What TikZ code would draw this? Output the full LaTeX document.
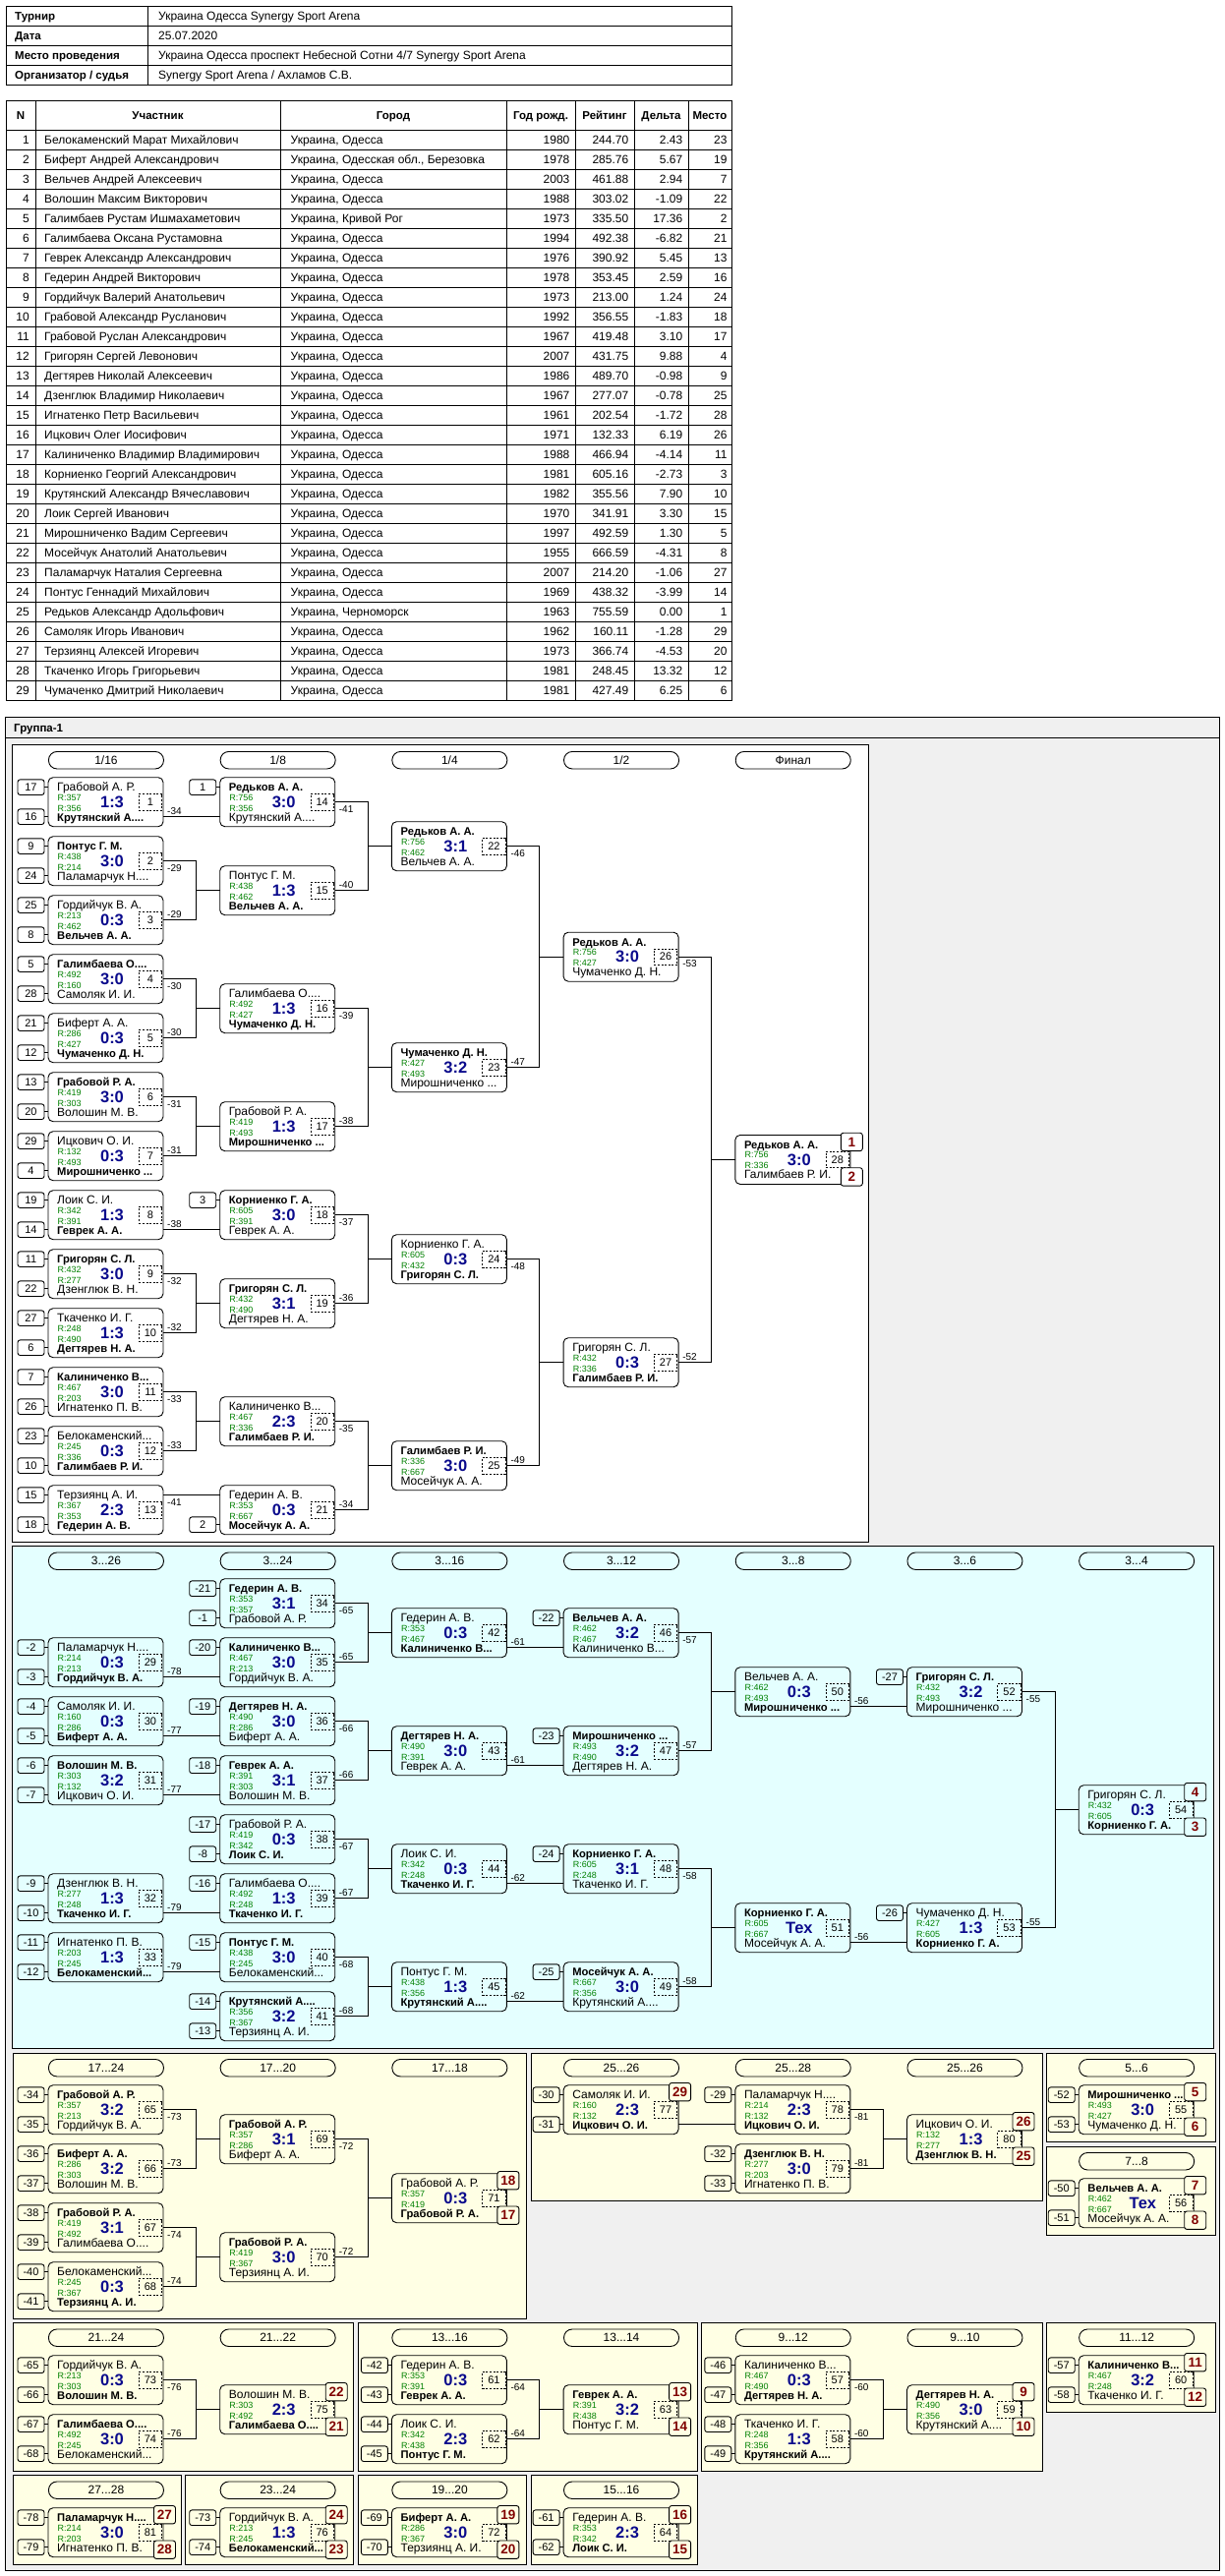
\documentclass[tikz,border=0pt]{standalone}
\usepackage{fontspec}
\setmainfont{Liberation Sans}
\usetikzlibrary{calc}
\definecolor{rgreen}{RGB}{0,128,0}
\definecolor{scblue}{RGB}{10,10,140}
\definecolor{plred}{RGB}{128,0,0}
\definecolor{cyanbg}{RGB}{228,255,255}
\definecolor{yelbg}{RGB}{255,255,228}
\definecolor{graybg}{RGB}{240,240,240}
\colorlet{panelbg}{white}
\newcommand\Fnm{\fontsize{12}{13}\selectfont}
\newcommand\Fbd{\bfseries\fontsize{11.2}{13}\selectfont}
\newcommand\Wn[1]{{\Fbd #1}}
\newcommand\Frt{\fontsize{9}{10}\selectfont}
\newcommand\Fsc{\bfseries\fontsize{16.5}{18}\selectfont}
\newcommand\Fnum{\fontsize{11}{12}\selectfont}
\newcommand\Fsd{\fontsize{11}{12}\selectfont}
\newcommand\Fpl{\bfseries\fontsize{13.5}{14}\selectfont}
\newcommand\Fpill{\fontsize{12}{13}\selectfont}
\newcommand\Flb{\fontsize{10}{11}\selectfont}
\newcommand\Ftb{\fontsize{12}{13}\selectfont}
\newcommand\Ftbb{\bfseries\fontsize{11.5}{13}\selectfont}
\tikzset{
 xmbox/.style={draw, line width=0.9pt, rounded corners=5pt, minimum width=117pt, minimum height=50pt, anchor=north west, inner sep=0pt, outer sep=0pt},
 xnm/.style={inner sep=0pt, anchor=base west, font=\Fnm},
 xrt/.style={inner sep=0pt, anchor=base west, font=\Frt, text=rgreen},
 xsc/.style={inner sep=0pt, anchor=base, font=\Fsc, text=scblue},
 xnb/.style={draw, line width=0.8pt, dash pattern=on 2pt off 1.6pt, minimum width=23.4pt, minimum height=16.4pt, inner sep=0pt, outer sep=0pt, font=\Fnum},
 xseed/.style={draw, line width=0.9pt, rounded corners=2.5pt, minimum width=27pt, minimum height=15.6pt, inner sep=0pt, outer sep=0pt, anchor=east, font=\Fsd},
 xpl/.style={draw, line width=0.9pt, fill=panelbg, rounded corners=2.5pt, minimum width=22pt, minimum height=18.4pt, inner sep=0pt, outer sep=0pt, font=\Fpl, text=plred},
 xpill/.style={draw, line width=0.9pt, rounded corners=8.5pt, minimum width=117pt, minimum height=17.5pt, inner sep=0pt, anchor=north west, font=\Fpill},
 xlbl/.style={inner sep=0pt, anchor=west, font=\Flb},
 xconn/.style={line width=0.9pt},
 xgrid/.style={line width=0.9pt},
 xpanel/.style={draw, line width=0.9pt},
 xtb/.style={inner sep=0pt, font=\Ftb},
 xtbh/.style={inner sep=0pt, font=\Ftbb},
}
% match box
\newcommand\Mt[9]{%
 \node[xmbox] (#1) at (#2,#3) {};
 \node[xnm] (#1t1) at ([xshift=9pt,yshift=-13.8pt]#1.north west) {#4};
 \node[xrt] (#1r1) at ([xshift=9.5pt,yshift=-23.3pt]#1.north west) {R:#5};
 \node[xsc] (#1sc) at ([xshift=65pt,yshift=-30.7pt]#1.north west) {#6};
 \node[xrt] (#1r2) at ([xshift=9.5pt,yshift=-34.3pt]#1.north west) {R:#7};
 \node[xnm] (#1t2) at ([xshift=9pt,yshift=-44.5pt]#1.north west) {#8};
 \node[xnb] (#1nb) at ([xshift=-13pt]#1.east) {#9};
}
\newcommand\Sda[2]{\node[xseed] (#1sa) at ([xshift=-4pt,yshift=15pt]#1.west) {#2}; \draw[xconn] (#1sa.east) -- (#1sa.east -| #1.west);}
\newcommand\Sdb[2]{\node[xseed] (#1sb) at ([xshift=-4pt,yshift=-15pt]#1.west) {#2}; \draw[xconn] (#1sb.east) -- (#1sb.east -| #1.west);}
\newcommand\Sd[3]{\Sda{#1}{#2}\Sdb{#1}{#3}}
\newcommand\Cpair[3]{\draw[xconn] (#1.east) -- ++(33.5,0) |- (#3.west); \draw[xconn] (#2.east) -- ++(33.5,0) |- (#3.west);}
\newcommand\Ctwo[2]{\draw[xconn] ([yshift=-15pt]#1.east) -- ([yshift=-15pt]#2.west);}
\newcommand\Cone[2]{\draw[xconn] ([yshift=15pt]#1.east) -- ([yshift=15pt]#2.west);}
\newcommand\LbU[2]{\node[xlbl] (#1lb) at ([xshift=4pt,yshift=-7pt]#1.east) {#2};}
\newcommand\LbL[2]{\node[xlbl] (#1lb) at ([xshift=4pt,yshift=6pt]#1.east) {#2};}
\newcommand\LbS[2]{\node[xlbl] (#1lb) at ([xshift=4pt,yshift=-9pt]#1.east) {#2};}
\newcommand\LbT[2]{\node[xlbl] (#1lb) at ([xshift=4pt,yshift=8pt]#1.east) {#2};}
\newcommand\PlA[2]{\node[xpl] (#1pa) at ([xshift=1.5pt,yshift=18pt]#1.east) {#2};}
\newcommand\PlB[2]{\node[xpl] (#1pb) at ([xshift=1.5pt,yshift=-17.5pt]#1.east) {#2};}
\newcommand\Pil[4]{\node[xpill] (#1) at (#2,#3) {#4};}
\newcommand\Prow[7]{%
 \pgfmathsetmacro\yb{132+20*#1-5.5}%
 \node[xtb,anchor=base east] (r#1a) at (30,\yb) {#1};
 \node[xtb,anchor=base west] (r#1b) at (45,\yb) {#2};
 \node[xtb,anchor=base west] (r#1c) at (295.5,\yb) {#3};
 \node[xtb,anchor=base east] (r#1d) at (579.6,\yb) {#4};
 \node[xtb,anchor=base east] (r#1e) at (639.4,\yb) {#5};
 \node[xtb,anchor=base east] (r#1f) at (694.5,\yb) {#6};
 \node[xtb,anchor=base east] (r#1g) at (739.7,\yb) {#7};
}
\begin{document}
\begin{tikzpicture}[x=1pt,y=-1pt]
\useasboundingbox (0,0) rectangle (1245,2620);
\fill[white] (0,0) rectangle (1245,2620);
% ---------- top info table ----------
\draw[xgrid] (6,6) rectangle (744,86);
\foreach \yy in {26,46,66} \draw[xgrid] (6,\yy) -- (744,\yy);
\draw[xgrid] (150,6) -- (150,86);
\node[xtbh,anchor=base west] (i1a) at (15,20.5) {Турнир};
\node[xtb,anchor=base west] (i1b) at (161,20.5) {Украина Одесса Synergy Sport Arena};
\node[xtbh,anchor=base west] (i2a) at (15,40.5) {Дата};
\node[xtb,anchor=base west] (i2b) at (161,40.5) {25.07.2020};
\node[xtbh,anchor=base west] (i3a) at (15,60.5) {Место проведения};
\node[xtb,anchor=base west] (i3b) at (161,60.5) {Украина Одесса проспект Небесной Сотни 4/7 Synergy Sport Arena};
\node[xtbh,anchor=base west] (i4a) at (15,80.5) {Организатор / судья};
\node[xtb,anchor=base west] (i4b) at (161,80.5) {Synergy Sport Arena / Ахламов С.В.};
% ---------- participants table ----------
\draw[xgrid] (6,102) rectangle (744,712);
\foreach \yy in {132,152,...,692} \draw[xgrid] (6,\yy) -- (744,\yy);
\foreach \xx in {36,285,515,585,645,700} \draw[xgrid] (\xx,102) -- (\xx,712);
\node[xtbh,anchor=base] (h1) at (21,121.5) {N};
\node[xtbh,anchor=base] (h2) at (160.5,121.5) {Участник};
\node[xtbh,anchor=base] (h3) at (400,121.5) {Город};
\node[xtbh,anchor=base] (h4) at (550,121.5) {Год рожд.};
\node[xtbh,anchor=base] (h5) at (615,121.5) {Рейтинг};
\node[xtbh,anchor=base] (h6) at (672.5,121.5) {Дельта};
\node[xtbh,anchor=base] (h7) at (722,121.5) {Место};
\Prow{1}{Белокаменский Марат Михайлович}{Украина, Одесса}{1980}{244.70}{2.43}{23}
\Prow{2}{Биферт Андрей Александрович}{Украина, Одесская обл., Березовка}{1978}{285.76}{5.67}{19}
\Prow{3}{Вельчев Андрей Алексеевич}{Украина, Одесса}{2003}{461.88}{2.94}{7}
\Prow{4}{Волошин Максим Викторович}{Украина, Одесса}{1988}{303.02}{-1.09}{22}
\Prow{5}{Галимбаев Рустам Ишмахаметович}{Украина, Кривой Рог}{1973}{335.50}{17.36}{2}
\Prow{6}{Галимбаева Оксана Рустамовна}{Украина, Одесса}{1994}{492.38}{-6.82}{21}
\Prow{7}{Геврек Александр Александрович}{Украина, Одесса}{1976}{390.92}{5.45}{13}
\Prow{8}{Гедерин Андрей Викторович}{Украина, Одесса}{1978}{353.45}{2.59}{16}
\Prow{9}{Гордийчук Валерий Анатольевич}{Украина, Одесса}{1973}{213.00}{1.24}{24}
\Prow{10}{Грабовой Александр Русланович}{Украина, Одесса}{1992}{356.55}{-1.83}{18}
\Prow{11}{Грабовой Руслан Александрович}{Украина, Одесса}{1967}{419.48}{3.10}{17}
\Prow{12}{Григорян Сергей Левонович}{Украина, Одесса}{2007}{431.75}{9.88}{4}
\Prow{13}{Дегтярев Николай Алексеевич}{Украина, Одесса}{1986}{489.70}{-0.98}{9}
\Prow{14}{Дзенглюк Владимир Николаевич}{Украина, Одесса}{1967}{277.07}{-0.78}{25}
\Prow{15}{Игнатенко Петр Васильевич}{Украина, Одесса}{1961}{202.54}{-1.72}{28}
\Prow{16}{Ицкович Олег Иосифович}{Украина, Одесса}{1971}{132.33}{6.19}{26}
\Prow{17}{Калиниченко Владимир Владимирович}{Украина, Одесса}{1988}{466.94}{-4.14}{11}
\Prow{18}{Корниенко Георгий Александрович}{Украина, Одесса}{1981}{605.16}{-2.73}{3}
\Prow{19}{Крутянский Александр Вячеславович}{Украина, Одесса}{1982}{355.56}{7.90}{10}
\Prow{20}{Лоик Сергей Иванович}{Украина, Одесса}{1970}{341.91}{3.30}{15}
\Prow{21}{Мирошниченко Вадим Сергеевич}{Украина, Одесса}{1997}{492.59}{1.30}{5}
\Prow{22}{Мосейчук Анатолий Анатольевич}{Украина, Одесса}{1955}{666.59}{-4.31}{8}
\Prow{23}{Паламарчук Наталия Сергеевна}{Украина, Одесса}{2007}{214.20}{-1.06}{27}
\Prow{24}{Понтус Геннадий Михайлович}{Украина, Одесса}{1969}{438.32}{-3.99}{14}
\Prow{25}{Редьков Александр Адольфович}{Украина, Черноморск}{1963}{755.59}{0.00}{1}
\Prow{26}{Самоляк Игорь Иванович}{Украина, Одесса}{1962}{160.11}{-1.28}{29}
\Prow{27}{Терзиянц Алексей Игоревич}{Украина, Одесса}{1973}{366.74}{-4.53}{20}
\Prow{28}{Ткаченко Игорь Григорьевич}{Украина, Одесса}{1981}{248.45}{13.32}{12}
\Prow{29}{Чумаченко Дмитрий Николаевич}{Украина, Одесса}{1981}{427.49}{6.25}{6}
% ---------- group frame ----------
\draw[xpanel, fill=graybg] (5,729) rectangle (1240,2614);
\draw[xpanel] (5,750) -- (1240,750);
\node[xtbh,anchor=base west] (grp) at (14,744) {Группа-1};
\draw[xpanel, fill=white] (12,757) rectangle (883,1568);
\draw[xpanel, fill=cyanbg] (12,1572) rectangle (1234,2083);
\draw[xpanel, fill=yelbg] (13,2088) rectangle (535,2358);
\draw[xpanel, fill=yelbg] (540,2088) rectangle (1060,2238);
\draw[xpanel, fill=yelbg] (1064,2088) rectangle (1236,2178);
\draw[xpanel, fill=yelbg] (1064,2183) rectangle (1236,2273);
\draw[xpanel, fill=yelbg] (13,2362) rectangle (359,2513);
\draw[xpanel, fill=yelbg] (364,2362) rectangle (709,2513);
\draw[xpanel, fill=yelbg] (713,2362) rectangle (1060,2513);
\draw[xpanel, fill=yelbg] (1064,2362) rectangle (1236,2453);
\draw[xpanel, fill=yelbg] (13,2517) rectangle (184,2608);
\draw[xpanel, fill=yelbg] (188,2517) rectangle (359,2608);
\draw[xpanel, fill=yelbg] (364,2517) rectangle (535,2608);
\draw[xpanel, fill=yelbg] (540,2517) rectangle (709,2608);
% ---------- round headers ----------
\Pil{pa0}{49}{764}{1/16}
\Pil{pa1}{223.7}{764}{1/8}
\Pil{pa2}{398.4}{764}{1/4}
\Pil{pa3}{573.1}{764}{1/2}
\Pil{pa4}{747.8}{764}{Финал}
\Pil{pb0}{49}{1578.5}{3...26}
\Pil{pb1}{223.7}{1578.5}{3...24}
\Pil{pb2}{398.4}{1578.5}{3...16}
\Pil{pb3}{573.1}{1578.5}{3...12}
\Pil{pb4}{747.8}{1578.5}{3...8}
\Pil{pb5}{922.5}{1578.5}{3...6}
\Pil{pb6}{1097.2}{1578.5}{3...4}
\Pil{pc0}{49}{2094}{17...24}
\Pil{pc1}{223.7}{2094}{17...20}
\Pil{pc2}{398.4}{2094}{17...18}
\Pil{pc3}{573.1}{2094}{25...26}
\Pil{pc4}{747.8}{2094}{25...28}
\Pil{pc5}{922.5}{2094}{25...26}
\Pil{pc6}{1097.2}{2094}{5...6}
\Pil{pc7}{1097.2}{2189}{7...8}
\Pil{pd0}{49}{2368.5}{21...24}
\Pil{pd1}{223.7}{2368.5}{21...22}
\Pil{pd2}{398.4}{2368.5}{13...16}
\Pil{pd3}{573.1}{2368.5}{13...14}
\Pil{pd4}{747.8}{2368.5}{9...12}
\Pil{pd5}{922.5}{2368.5}{9...10}
\Pil{pd6}{1097.2}{2368.5}{11...12}
\Pil{pe0}{49}{2523.5}{27...28}
\Pil{pe1}{223.7}{2523.5}{23...24}
\Pil{pe2}{398.4}{2523.5}{19...20}
\Pil{pe3}{573.1}{2523.5}{15...16}
% ---------- group 1 matches ----------
\colorlet{panelbg}{white}
\Mt{m1}{49}{790.7}{Грабовой А. Р.}{357}{1:3}{356}{\Wn{Крутянский А....}}{1}
\Mt{m2}{49}{850.7}{\Wn{Понтус Г. М.}}{438}{3:0}{214}{Паламарчук Н....}{2}
\Mt{m3}{49}{910.7}{Гордийчук В. А.}{213}{0:3}{462}{\Wn{Вельчев А. А.}}{3}
\Mt{m4}{49}{970.7}{\Wn{Галимбаева О....}}{492}{3:0}{160}{Самоляк И. И.}{4}
\Mt{m5}{49}{1030.7}{Биферт А. А.}{286}{0:3}{427}{\Wn{Чумаченко Д. Н.}}{5}
\Mt{m6}{49}{1090.7}{\Wn{Грабовой Р. А.}}{419}{3:0}{303}{Волошин М. В.}{6}
\Mt{m7}{49}{1150.7}{Ицкович О. И.}{132}{0:3}{493}{\Wn{Мирошниченко ...}}{7}
\Mt{m8}{49}{1210.7}{Лоик С. И.}{342}{1:3}{391}{\Wn{Геврек А. А.}}{8}
\Mt{m9}{49}{1270.7}{\Wn{Григорян С. Л.}}{432}{3:0}{277}{Дзенглюк В. Н.}{9}
\Mt{m10}{49}{1330.7}{Ткаченко И. Г.}{248}{1:3}{490}{\Wn{Дегтярев Н. А.}}{10}
\Mt{m11}{49}{1390.7}{\Wn{Калиниченко В...}}{467}{3:0}{203}{Игнатенко П. В.}{11}
\Mt{m12}{49}{1450.7}{Белокаменский...}{245}{0:3}{336}{\Wn{Галимбаев Р. И.}}{12}
\Mt{m13}{49}{1510.7}{Терзиянц А. И.}{367}{2:3}{353}{\Wn{Гедерин А. В.}}{13}
\Mt{m14}{223.7}{790.7}{\Wn{Редьков А. А.}}{756}{3:0}{356}{Крутянский А....}{14}
\Mt{m15}{223.7}{880.7}{Понтус Г. М.}{438}{1:3}{462}{\Wn{Вельчев А. А.}}{15}
\Mt{m16}{223.7}{1000.7}{Галимбаева О....}{492}{1:3}{427}{\Wn{Чумаченко Д. Н.}}{16}
\Mt{m17}{223.7}{1120.7}{Грабовой Р. А.}{419}{1:3}{493}{\Wn{Мирошниченко ...}}{17}
\Mt{m18}{223.7}{1210.7}{\Wn{Корниенко Г. А.}}{605}{3:0}{391}{Геврек А. А.}{18}
\Mt{m19}{223.7}{1300.7}{\Wn{Григорян С. Л.}}{432}{3:1}{490}{Дегтярев Н. А.}{19}
\Mt{m20}{223.7}{1420.7}{Калиниченко В...}{467}{2:3}{336}{\Wn{Галимбаев Р. И.}}{20}
\Mt{m21}{223.7}{1510.7}{Гедерин А. В.}{353}{0:3}{667}{\Wn{Мосейчук А. А.}}{21}
\Mt{m22}{398.4}{835.7}{\Wn{Редьков А. А.}}{756}{3:1}{462}{Вельчев А. А.}{22}
\Mt{m23}{398.4}{1060.7}{\Wn{Чумаченко Д. Н.}}{427}{3:2}{493}{Мирошниченко ...}{23}
\Mt{m24}{398.4}{1255.7}{Корниенко Г. А.}{605}{0:3}{432}{\Wn{Григорян С. Л.}}{24}
\Mt{m25}{398.4}{1465.7}{\Wn{Галимбаев Р. И.}}{336}{3:0}{667}{Мосейчук А. А.}{25}
\Mt{m26}{573.1}{948.2}{\Wn{Редьков А. А.}}{756}{3:0}{427}{Чумаченко Д. Н.}{26}
\Mt{m27}{573.1}{1360.7}{Григорян С. Л.}{432}{0:3}{336}{\Wn{Галимбаев Р. И.}}{27}
\Mt{m28}{747.8}{1154.45}{\Wn{Редьков А. А.}}{756}{3:0}{336}{Галимбаев Р. И.}{28}
\Sd{m1}{17}{16}\Sd{m2}{9}{24}\Sd{m3}{25}{8}\Sd{m4}{5}{28}\Sd{m5}{21}{12}
\Sd{m6}{13}{20}\Sd{m7}{29}{4}\Sd{m8}{19}{14}\Sd{m9}{11}{22}\Sd{m10}{27}{6}
\Sd{m11}{7}{26}\Sd{m12}{23}{10}\Sd{m13}{15}{18}
\Sda{m14}{1}\Sda{m18}{3}\Sdb{m21}{2}
\Ctwo{m1}{m14}
\Cpair{m2}{m3}{m15}
\Cpair{m4}{m5}{m16}
\Cpair{m6}{m7}{m17}
\Ctwo{m8}{m18}
\Cpair{m9}{m10}{m19}
\Cpair{m11}{m12}{m20}
\Cone{m13}{m21}
\Cpair{m14}{m15}{m22}
\Cpair{m16}{m17}{m23}
\Cpair{m18}{m19}{m24}
\Cpair{m20}{m21}{m25}
\Cpair{m22}{m23}{m26}
\Cpair{m24}{m25}{m27}
\Cpair{m26}{m27}{m28}
\LbS{m1}{-34}\LbU{m2}{-29}\LbL{m3}{-29}\LbU{m4}{-30}\LbL{m5}{-30}
\LbU{m6}{-31}\LbL{m7}{-31}\LbS{m8}{-38}\LbU{m9}{-32}\LbL{m10}{-32}
\LbU{m11}{-33}\LbL{m12}{-33}\LbT{m13}{-41}
\LbU{m14}{-41}\LbL{m15}{-40}\LbU{m16}{-39}\LbL{m17}{-38}
\LbU{m18}{-37}\LbL{m19}{-36}\LbU{m20}{-35}\LbL{m21}{-34}
\LbU{m22}{-46}\LbL{m23}{-47}\LbU{m24}{-48}\LbL{m25}{-49}
\LbU{m26}{-53}\LbL{m27}{-52}
\PlA{m28}{1}\PlB{m28}{2}
% ---------- group 2 (3...26) ----------
\colorlet{panelbg}{cyanbg}
\Mt{m29}{49}{1665.7}{Паламарчук Н....}{214}{0:3}{213}{\Wn{Гордийчук В. А.}}{29}
\Mt{m30}{49}{1725.7}{Самоляк И. И.}{160}{0:3}{286}{\Wn{Биферт А. А.}}{30}
\Mt{m31}{49}{1785.7}{\Wn{Волошин М. В.}}{303}{3:2}{132}{Ицкович О. И.}{31}
\Mt{m32}{49}{1905.7}{Дзенглюк В. Н.}{277}{1:3}{248}{\Wn{Ткаченко И. Г.}}{32}
\Mt{m33}{49}{1965.7}{Игнатенко П. В.}{203}{1:3}{245}{\Wn{Белокаменский...}}{33}
\Mt{m34}{223.7}{1605.7}{\Wn{Гедерин А. В.}}{353}{3:1}{357}{Грабовой А. Р.}{34}
\Mt{m35}{223.7}{1665.7}{\Wn{Калиниченко В...}}{467}{3:0}{213}{Гордийчук В. А.}{35}
\Mt{m36}{223.7}{1725.7}{\Wn{Дегтярев Н. А.}}{490}{3:0}{286}{Биферт А. А.}{36}
\Mt{m37}{223.7}{1785.7}{\Wn{Геврек А. А.}}{391}{3:1}{303}{Волошин М. В.}{37}
\Mt{m38}{223.7}{1845.7}{Грабовой Р. А.}{419}{0:3}{342}{\Wn{Лоик С. И.}}{38}
\Mt{m39}{223.7}{1905.7}{Галимбаева О....}{492}{1:3}{248}{\Wn{Ткаченко И. Г.}}{39}
\Mt{m40}{223.7}{1965.7}{\Wn{Понтус Г. М.}}{438}{3:0}{245}{Белокаменский...}{40}
\Mt{m41}{223.7}{2025.7}{\Wn{Крутянский А....}}{356}{3:2}{367}{Терзиянц А. И.}{41}
\Mt{m42}{398.4}{1635.7}{Гедерин А. В.}{353}{0:3}{467}{\Wn{Калиниченко В...}}{42}
\Mt{m43}{398.4}{1755.7}{\Wn{Дегтярев Н. А.}}{490}{3:0}{391}{Геврек А. А.}{43}
\Mt{m44}{398.4}{1875.7}{Лоик С. И.}{342}{0:3}{248}{\Wn{Ткаченко И. Г.}}{44}
\Mt{m45}{398.4}{1995.7}{Понтус Г. М.}{438}{1:3}{356}{\Wn{Крутянский А....}}{45}
\Mt{m46}{573.1}{1635.7}{\Wn{Вельчев А. А.}}{462}{3:2}{467}{Калиниченко В...}{46}
\Mt{m47}{573.1}{1755.7}{\Wn{Мирошниченко ...}}{493}{3:2}{490}{Дегтярев Н. А.}{47}
\Mt{m48}{573.1}{1875.7}{\Wn{Корниенко Г. А.}}{605}{3:1}{248}{Ткаченко И. Г.}{48}
\Mt{m49}{573.1}{1995.7}{\Wn{Мосейчук А. А.}}{667}{3:0}{356}{Крутянский А....}{49}
\Mt{m50}{747.8}{1695.7}{Вельчев А. А.}{462}{0:3}{493}{\Wn{Мирошниченко ...}}{50}
\Mt{m51}{747.8}{1935.7}{\Wn{Корниенко Г. А.}}{605}{Тех}{667}{Мосейчук А. А.}{51}
\Mt{m52}{922.5}{1695.7}{\Wn{Григорян С. Л.}}{432}{3:2}{493}{Мирошниченко ...}{52}
\Mt{m53}{922.5}{1935.7}{Чумаченко Д. Н.}{427}{1:3}{605}{\Wn{Корниенко Г. А.}}{53}
\Mt{m54}{1097.2}{1815.7}{Григорян С. Л.}{432}{0:3}{605}{\Wn{Корниенко Г. А.}}{54}
\Sd{m29}{-2}{-3}\Sd{m30}{-4}{-5}\Sd{m31}{-6}{-7}\Sd{m32}{-9}{-10}\Sd{m33}{-11}{-12}
\Sd{m34}{-21}{-1}\Sda{m35}{-20}\Sda{m36}{-19}\Sda{m37}{-18}\Sd{m38}{-17}{-8}
\Sda{m39}{-16}\Sda{m40}{-15}\Sd{m41}{-14}{-13}
\Sda{m46}{-22}\Sda{m47}{-23}\Sda{m48}{-24}\Sda{m49}{-25}
\Sda{m52}{-27}\Sda{m53}{-26}
\Ctwo{m29}{m35}\Ctwo{m30}{m36}\Ctwo{m31}{m37}\Ctwo{m32}{m39}\Ctwo{m33}{m40}
\Cpair{m34}{m35}{m42}\Cpair{m36}{m37}{m43}\Cpair{m38}{m39}{m44}\Cpair{m40}{m41}{m45}
\Ctwo{m42}{m46}\Ctwo{m43}{m47}\Ctwo{m44}{m48}\Ctwo{m45}{m49}
\Cpair{m46}{m47}{m50}\Cpair{m48}{m49}{m51}
\Ctwo{m50}{m52}\Ctwo{m51}{m53}
\Cpair{m52}{m53}{m54}
\LbS{m29}{-78}\LbS{m30}{-77}\LbS{m31}{-77}\LbS{m32}{-79}\LbS{m33}{-79}
\LbU{m34}{-65}\LbL{m35}{-65}\LbU{m36}{-66}\LbL{m37}{-66}
\LbU{m38}{-67}\LbL{m39}{-67}\LbU{m40}{-68}\LbL{m41}{-68}
\LbS{m42}{-61}\LbS{m43}{-61}\LbS{m44}{-62}\LbS{m45}{-62}
\LbU{m46}{-57}\LbL{m47}{-57}\LbU{m48}{-58}\LbL{m49}{-58}
\LbS{m50}{-56}\LbS{m51}{-56}
\LbU{m52}{-55}\LbL{m53}{-55}
\PlA{m54}{4}\PlB{m54}{3}
% ---------- lower panels ----------
\colorlet{panelbg}{yelbg}
% 17...24
\Mt{m65}{49}{2120.7}{\Wn{Грабовой А. Р.}}{357}{3:2}{213}{Гордийчук В. А.}{65}
\Mt{m66}{49}{2180.7}{\Wn{Биферт А. А.}}{286}{3:2}{303}{Волошин М. В.}{66}
\Mt{m67}{49}{2240.7}{\Wn{Грабовой Р. А.}}{419}{3:1}{492}{Галимбаева О....}{67}
\Mt{m68}{49}{2300.7}{Белокаменский...}{245}{0:3}{367}{\Wn{Терзиянц А. И.}}{68}
\Mt{m69}{223.7}{2150.7}{\Wn{Грабовой А. Р.}}{357}{3:1}{286}{Биферт А. А.}{69}
\Mt{m70}{223.7}{2270.7}{\Wn{Грабовой Р. А.}}{419}{3:0}{367}{Терзиянц А. И.}{70}
\Mt{m71}{398.4}{2210.7}{Грабовой А. Р.}{357}{0:3}{419}{\Wn{Грабовой Р. А.}}{71}
\Sd{m65}{-34}{-35}\Sd{m66}{-36}{-37}\Sd{m67}{-38}{-39}\Sd{m68}{-40}{-41}
\Cpair{m65}{m66}{m69}\Cpair{m67}{m68}{m70}\Cpair{m69}{m70}{m71}
\LbU{m65}{-73}\LbL{m66}{-73}\LbU{m67}{-74}\LbL{m68}{-74}\LbU{m69}{-72}\LbL{m70}{-72}
\PlA{m71}{18}\PlB{m71}{17}
% 25...28
\Mt{m77}{573.1}{2120.7}{Самоляк И. И.}{160}{2:3}{132}{\Wn{Ицкович О. И.}}{77}
\Mt{m78}{747.8}{2120.7}{Паламарчук Н....}{214}{2:3}{132}{\Wn{Ицкович О. И.}}{78}
\Mt{m79}{747.8}{2180.7}{\Wn{Дзенглюк В. Н.}}{277}{3:0}{203}{Игнатенко П. В.}{79}
\Mt{m80}{922.5}{2150.7}{Ицкович О. И.}{132}{1:3}{277}{\Wn{Дзенглюк В. Н.}}{80}
\Sd{m77}{-30}{-31}\Sda{m78}{-29}\Sd{m79}{-32}{-33}
\Ctwo{m77}{m78}\Cpair{m78}{m79}{m80}
\LbU{m78}{-81}\LbL{m79}{-81}
\PlA{m77}{29}\PlA{m80}{26}\PlB{m80}{25}
% 5...6 and 7...8
\Mt{m55}{1097.2}{2120.7}{\Wn{Мирошниченко ...}}{493}{3:0}{427}{Чумаченко Д. Н.}{55}
\Sd{m55}{-52}{-53}\PlA{m55}{5}\PlB{m55}{6}
\Mt{m56}{1097.2}{2215.7}{\Wn{Вельчев А. А.}}{462}{Тех}{667}{Мосейчук А. А.}{56}
\Sd{m56}{-50}{-51}\PlA{m56}{7}\PlB{m56}{8}
% 21...24
\Mt{m73}{49}{2395.7}{Гордийчук В. А.}{213}{0:3}{303}{\Wn{Волошин М. В.}}{73}
\Mt{m74}{49}{2455.7}{\Wn{Галимбаева О....}}{492}{3:0}{245}{Белокаменский...}{74}
\Mt{m75}{223.7}{2425.7}{Волошин М. В.}{303}{2:3}{492}{\Wn{Галимбаева О....}}{75}
\Sd{m73}{-65}{-66}\Sd{m74}{-67}{-68}
\Cpair{m73}{m74}{m75}
\LbU{m73}{-76}\LbL{m74}{-76}
\PlA{m75}{22}\PlB{m75}{21}
% 13...16
\Mt{m61}{398.4}{2395.7}{Гедерин А. В.}{353}{0:3}{391}{\Wn{Геврек А. А.}}{61}
\Mt{m62}{398.4}{2455.7}{Лоик С. И.}{342}{2:3}{438}{\Wn{Понтус Г. М.}}{62}
\Mt{m63}{573.1}{2425.7}{\Wn{Геврек А. А.}}{391}{3:2}{438}{Понтус Г. М.}{63}
\Sd{m61}{-42}{-43}\Sd{m62}{-44}{-45}
\Cpair{m61}{m62}{m63}
\LbU{m61}{-64}\LbL{m62}{-64}
\PlA{m63}{13}\PlB{m63}{14}
% 9...12
\Mt{m57}{747.8}{2395.7}{Калиниченко В...}{467}{0:3}{490}{\Wn{Дегтярев Н. А.}}{57}
\Mt{m58}{747.8}{2455.7}{Ткаченко И. Г.}{248}{1:3}{356}{\Wn{Крутянский А....}}{58}
\Mt{m59}{922.5}{2425.7}{\Wn{Дегтярев Н. А.}}{490}{3:0}{356}{Крутянский А....}{59}
\Sd{m57}{-46}{-47}\Sd{m58}{-48}{-49}
\Cpair{m57}{m58}{m59}
\LbU{m57}{-60}\LbL{m58}{-60}
\PlA{m59}{9}\PlB{m59}{10}
% 11...12
\Mt{m60}{1097.2}{2395.7}{\Wn{Калиниченко В...}}{467}{3:2}{248}{Ткаченко И. Г.}{60}
\Sd{m60}{-57}{-58}\PlA{m60}{11}\PlB{m60}{12}
% 27...28, 23...24, 19...20, 15...16
\Mt{m81}{49}{2550.7}{\Wn{Паламарчук Н....}}{214}{3:0}{203}{Игнатенко П. В.}{81}
\Sd{m81}{-78}{-79}\PlA{m81}{27}\PlB{m81}{28}
\Mt{m76}{223.7}{2550.7}{Гордийчук В. А.}{213}{1:3}{245}{\Wn{Белокаменский...}}{76}
\Sd{m76}{-73}{-74}\PlA{m76}{24}\PlB{m76}{23}
\Mt{m72}{398.4}{2550.7}{\Wn{Биферт А. А.}}{286}{3:0}{367}{Терзиянц А. И.}{72}
\Sd{m72}{-69}{-70}\PlA{m72}{19}\PlB{m72}{20}
\Mt{m64}{573.1}{2550.7}{Гедерин А. В.}{353}{2:3}{342}{\Wn{Лоик С. И.}}{64}
\Sd{m64}{-61}{-62}\PlA{m64}{16}\PlB{m64}{15}
\end{tikzpicture}
\end{document}
